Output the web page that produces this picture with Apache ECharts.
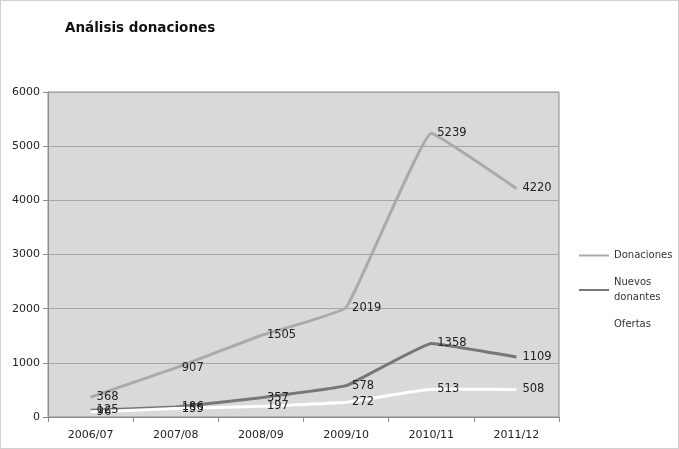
<!DOCTYPE html>
<html>
<head>
<meta charset="utf-8">
<script src="https://cdn.jsdelivr.net/npm/echarts@6/dist/echarts.min.js"></script>
<style>
html,body{margin:0;padding:0;background:#fff;}
#chart{width:677px;height:447px;border:1px solid #d0d0d0;}
</style>
</head>
<body>
<div id="chart"></div>
<script>
var categories = ["2006/07","2007/08","2008/09","2009/10","2010/11","2011/12"];
var donaciones = [368, 907, 1505, 2019, 5239, 4220];
var nuevosDonantes = [125, 186, 357, 578, 1358, 1109];
var ofertas = [96, 155, 197, 272, 513, 508];
var yTicks = [0, 6000, 1000];

var Chart_1 = echarts.init(document.getElementById('chart'));

function makeSeries(name, data, color){
    return {
        name: name,
        type: 'line',
        data: data,
        smooth: 0.08,
        symbol: 'circle',
        symbolSize: 0.01,
        showSymbol: true,
        lineStyle: {color: color, width: 3},
        itemStyle: {color: color},
        label: {
            show: true,
            position: 'right',
            distance: 6,
            color: '#222',
            fontSize: 11.5,
            fontFamily: 'DejaVu Sans'
        }
    };
}

var option = {
    animation: false,
    textStyle: {fontFamily: 'DejaVu Sans', color: '#333'},
    title: {
        text: 'Análisis donaciones',
        left: 59,
        top: 15,
        textStyle: {fontSize: 13.5, fontWeight: 'bold', color: '#111', fontFamily: 'DejaVu Sans'}
    },
    legend: {
        orient: 'vertical',
        left: 578,
        top: 247,
        padding: 0,
        itemWidth: 30,
        itemHeight: 10,
        itemGap: 12,
        icon: 'path://M0,4 L30,4 L30,6 L0,6 Z',
        textStyle: {fontSize: 10, color: '#333', fontFamily: 'DejaVu Sans', lineHeight: 15},
        formatter: function(n){ return n === 'Nuevos donantes' ? 'Nuevos\ndonantes' : n; },
        data: [
            {name: 'Donaciones', itemStyle: {color: '#aaaaaa'}},
            {name: 'Nuevos donantes', itemStyle: {color: '#777777'}},
            {name: 'Ofertas', itemStyle: {color: '#ffffff'}}
        ]
    },
    grid: {
        left: 47,
        right: 119,
        top: 91,
        bottom: 31,
        show: true,
        backgroundColor: '#d9d9d9',
        borderColor: '#8c8c8c',
        borderWidth: 1
    },
    color: ['#aaaaaa', '#777777', '#ffffff'],
    xAxis: {
        type: 'category',
        data: categories,
        boundaryGap: true,
        axisLine: {lineStyle: {color: '#8c8c8c'}},
        axisTick: {show: true, length: 5, lineStyle: {color: '#8c8c8c'}},
        axisLabel: {color: '#222', fontSize: 11, margin: 13}
    },
    yAxis: {
        type: 'value',
        min: yTicks[0],
        max: yTicks[1],
        interval: yTicks[2],
        axisLine: {show: true, lineStyle: {color: '#8c8c8c'}},
        axisTick: {show: true, length: 5, lineStyle: {color: '#8c8c8c'}},
        axisLabel: {color: '#222', fontSize: 11, margin: 8, formatter: function(v){ return String(v); }},
        splitLine: {lineStyle: {color: '#a6a6a6'}}
    },
    series: [
        makeSeries('Donaciones', donaciones, '#aaaaaa'),
        makeSeries('Nuevos donantes', nuevosDonantes, '#777777'),
        makeSeries('Ofertas', ofertas, '#ffffff')
    ]
};

Chart_1.setOption(option);
</script>
</body>
</html>
